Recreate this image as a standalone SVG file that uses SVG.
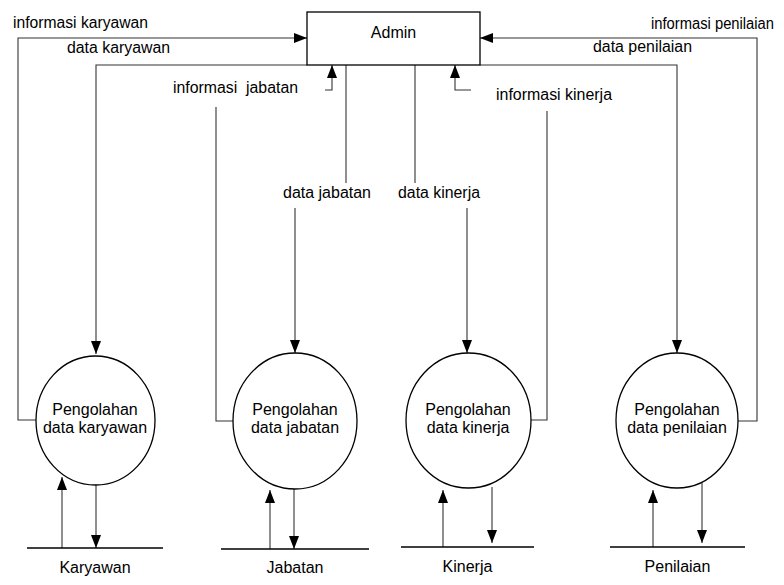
<svg xmlns="http://www.w3.org/2000/svg" width="784" height="585" viewBox="0 0 784 585">
<style>
text{font-family:"Liberation Sans",Arial,sans-serif;fill:#000}
.lbl{font-size:16px}
.nl{font-size:16px;text-anchor:middle}
.c{fill:none;stroke:#333;stroke-width:1.1}
.a{marker-end:url(#ah)}
.shape{fill:#fff;stroke:#000;stroke-width:1.3}
.store{stroke:#000;stroke-width:1.5}
</style>
<defs>
<marker id="ah" markerUnits="userSpaceOnUse" markerWidth="13" markerHeight="10" refX="13" refY="5" orient="auto">
<path d="M0,0 L13,5 L0,10 z" fill="#000"/>
</marker>
</defs>
<rect width="784" height="585" fill="#fff"/>
<g id="connectors">
<path class="c a" d="M36,420 H18 V38 H307"/>
<path class="c a" d="M307,65 H96 V354"/>
<path class="c a" d="M325,90 H332 V65"/>
<path class="c" d="M216,107 V421 H233"/>
<path class="c" d="M346,65 V183"/>
<path class="c a" d="M295,208 V353"/>
<path class="c" d="M415,65 V183"/>
<path class="c a" d="M467,208 V353"/>
<path class="c a" d="M471,90 H455 V65"/>
<path class="c" d="M547,111 V420 H531"/>
<path class="c a" d="M480,65 H677 V353"/>
<path class="c a" d="M738,421 H757 V38 H480"/>
<path class="c a" d="M62,548 V477"/>
<path class="c a" d="M96,485 V548"/>
<path class="c a" d="M270,549 V490"/>
<path class="c a" d="M294,489 V549"/>
<path class="c a" d="M443,547 V490"/>
<path class="c a" d="M492,487 V543"/>
<path class="c a" d="M653,547 V490"/>
<path class="c a" d="M702,483 V543"/>
<text class="lbl" x="13" y="28" textLength="135" lengthAdjust="spacingAndGlyphs">informasi karyawan</text>
<text class="lbl" x="67" y="53" textLength="103" lengthAdjust="spacingAndGlyphs">data karyawan</text>
<text class="lbl" x="651" y="29" textLength="123" lengthAdjust="spacingAndGlyphs">informasi penilaian</text>
<text class="lbl" x="593" y="52" textLength="99" lengthAdjust="spacingAndGlyphs">data penilaian</text>
<text class="lbl" x="173" y="93" textLength="125" lengthAdjust="spacingAndGlyphs" xml:space="preserve">informasi  jabatan</text>
<text class="lbl" x="496" y="100" textLength="116" lengthAdjust="spacingAndGlyphs">informasi kinerja</text>
<text class="lbl" x="283" y="198" textLength="88" lengthAdjust="spacingAndGlyphs">data jabatan</text>
<text class="lbl" x="398" y="198" textLength="82" lengthAdjust="spacingAndGlyphs">data kinerja</text>
</g>
<g id="admin">
<rect class="shape" x="307" y="12" width="173" height="53"/>
<text class="nl" x="393.5" y="38">Admin</text>
</g>
<g id="p1">
<ellipse class="shape" cx="95.5" cy="420.5" rx="59.5" ry="64.5"/>
<text class="nl" x="95" y="415">Pengolahan</text>
<text class="nl" x="95" y="433">data karyawan</text>
</g>
<g id="p2">
<ellipse class="shape" cx="295" cy="421" rx="62" ry="68"/>
<text class="nl" x="295" y="415">Pengolahan</text>
<text class="nl" x="295" y="433">data jabatan</text>
</g>
<g id="p3">
<ellipse class="shape" cx="468.5" cy="420.5" rx="62.5" ry="67.5"/>
<text class="nl" x="468" y="415">Pengolahan</text>
<text class="nl" x="468" y="433">data kinerja</text>
</g>
<g id="p4">
<ellipse class="shape" cx="677" cy="420.5" rx="61" ry="67.5"/>
<text class="nl" x="677" y="415">Pengolahan</text>
<text class="nl" x="677" y="433">data penilaian</text>
</g>
<g id="s1">
<line class="store" x1="27" y1="548" x2="163" y2="548"/>
<text class="nl" x="95" y="573">Karyawan</text>
</g>
<g id="s2">
<line class="store" x1="221" y1="549" x2="369" y2="549"/>
<text class="nl" x="295" y="573">Jabatan</text>
</g>
<g id="s3">
<line class="store" x1="401" y1="547" x2="534" y2="547"/>
<text class="nl" x="467.5" y="572">Kinerja</text>
</g>
<g id="s4">
<line class="store" x1="610" y1="547" x2="745" y2="547"/>
<text class="nl" x="677.5" y="572">Penilaian</text>
</g>
</svg>
